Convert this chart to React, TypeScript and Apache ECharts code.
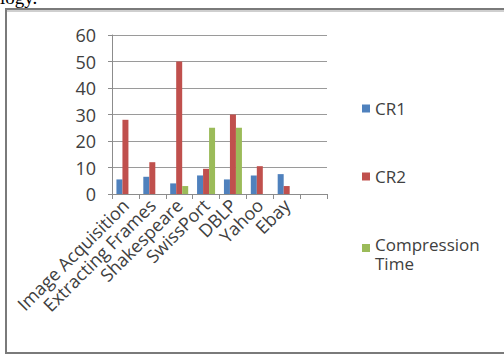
import React, { useEffect, useRef } from "react";
import * as echarts from "echarts";

const categories = [
  "Image Acquisition",
  "Extracting Frames",
  "Shakespeare",
  "SwissPort",
  "DBLP",
  "Yahoo",
  "Ebay",
  "",
];
const cr1 = [5.5, 6.5, 4, 7, 5.5, 7, 7.5, null];
const cr2 = [28, 12, 50, 9.5, 30, 10.5, 3, null];
const compressionTime = [null, null, 3, 25, 25, null, null, null];
const yTicks = { min: 0, max: 60, interval: 10 };

const FONT = "Open Sans";
const legendText = { fontFamily: FONT, fontSize: 17, color: "#404040", lineHeight: 19 };

// One legend block per series so each entry sits at its own height.
const legendBlock = (name: string, top: number, extra: object = {}) => ({
  orient: "vertical",
  left: 357,
  top,
  itemWidth: 8,
  itemHeight: 8,
  icon: "rect",
  data: [name],
  textStyle: legendText,
  ...extra,
});

export default function App() {
  const ref = useRef<HTMLDivElement>(null);

  useEffect(() => {
    if (!ref.current) return;
    const chart = echarts.init(ref.current, null, { renderer: "svg" });
    chart.setOption({
      animation: false,
      backgroundColor: "#ffffff",
      textStyle: { fontFamily: FONT },
      grid: { left: 112, right: 177, top: 35, bottom: 162, containLabel: false },
      legend: [
        legendBlock("CR1", 94),
        legendBlock("CR2", 162),
        legendBlock("Compression Time", 230, {
          // square aligned with the first text line
          icon: "path://M0,0h8v8h-8z M0,20h8v0h-8z",
          itemHeight: 20,
          formatter: (name: string) => name.replace(" ", "\n"),
        }),
      ],
      xAxis: {
        type: "category",
        data: categories,
        boundaryGap: true,
        axisLine: { lineStyle: { color: "#8c8c8c", width: 1 } },
        axisTick: { show: true, alignWithLabel: false, length: 5, lineStyle: { color: "#8c8c8c" } },
        axisLabel: {
          interval: 0,
          rotate: 45,
          margin: 8,
          fontFamily: FONT,
          fontSize: 18,
          color: "#404040",
        },
      },
      yAxis: {
        type: "value",
        min: yTicks.min,
        max: yTicks.max,
        interval: yTicks.interval,
        axisLine: { show: true, lineStyle: { color: "#8c8c8c", width: 1 } },
        axisTick: { show: true, length: 4, lineStyle: { color: "#8c8c8c" } },
        splitLine: { lineStyle: { color: "#9a9a9a", width: 1 } },
        axisLabel: { margin: 16, fontFamily: FONT, fontSize: 18, color: "#404040" },
      },
      series: [
        { name: "CR1", type: "bar", data: cr1, barGap: "0%", barCategoryGap: "33%", itemStyle: { color: "#4F81BD" } },
        { name: "CR2", type: "bar", data: cr2, barGap: "0%", barCategoryGap: "33%", itemStyle: { color: "#C0504D" } },
        { name: "Compression Time", type: "bar", data: compressionTime, barGap: "0%", barCategoryGap: "33%", itemStyle: { color: "#9BBB59" } },
      ],
      graphic: [
        {
          type: "text",
          left: 0,
          top: -12,
          style: { text: "logy.", fontFamily: "Liberation Serif", fontSize: 19, fill: "#000000" },
          z: 10,
        },
        {
          type: "rect",
          shape: { x: 6, y: 9, width: 520, height: 344 },
          style: { fill: "none", stroke: "#7a7a7a", lineWidth: 2 },
          z: 10,
        },
        {
          type: "line",
          shape: { x1: 7, y1: 11, x2: 520, y2: 11 },
          style: { stroke: "#cfcfcf", lineWidth: 2 },
          z: 10,
        },
      ],
    });
    return () => chart.dispose();
  }, []);

  return (
    <div
      ref={ref}
      style={{ position: "absolute", left: 0, top: 0, width: 504, height: 356 }}
    />
  );
}
